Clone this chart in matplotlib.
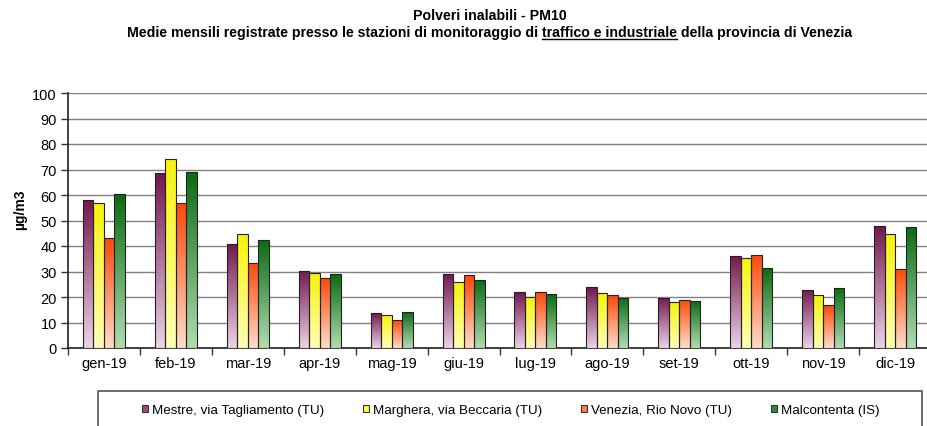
import matplotlib
matplotlib.use("Agg")
import matplotlib.pyplot as plt
import numpy as np
from matplotlib.colors import LinearSegmentedColormap
from matplotlib.patches import Rectangle
from matplotlib.lines import Line2D

plt.rcParams['font.family'] = ['Liberation Sans', 'DejaVu Sans']

months = ['gen-19', 'feb-19', 'mar-19', 'apr-19', 'mag-19', 'giu-19',
          'lug-19', 'ago-19', 'set-19', 'ott-19', 'nov-19', 'dic-19']
stations = ['Mestre, via Tagliamento (TU)', 'Marghera, via Beccaria (TU)',
            'Venezia, Rio Novo (TU)', 'Malcontenta (IS)']

mestre = [58.1, 68.5, 40.9, 30.2, 13.7, 29.1, 21.8, 23.9, 19.7, 36.2, 22.9, 47.9]
marghera = [57.0, 74.2, 44.8, 29.6, 13.0, 25.8, 19.9, 21.4, 18.0, 35.3, 20.7, 44.8]
venezia = [43.0, 56.8, 33.2, 27.3, 10.9, 28.5, 21.8, 20.7, 18.9, 36.6, 16.7, 31.0]
malcontenta = [60.3, 69.2, 42.2, 29.0, 14.2, 26.7, 21.1, 19.7, 18.5, 31.4, 23.7, 47.6]
series = [mestre, marghera, venezia, malcontenta]

# gradient colours for each station: (bottom, top)
grad_colors = [('#ecd2e6', '#74184f'),
               ('#ffffb8', '#f6f20a'),
               ('#ffdcc8', '#fb4a0c'),
               ('#b0dcb0', '#0b6b12')]
legend_colors = ['#9c4a80', '#ffff40', '#ff8050', '#2e8a34']

fig = plt.figure(figsize=(9.27, 4.27), dpi=100)
ax = fig.add_axes([68 / 927, 1 - 349 / 427, 863 / 927, 255 / 427])

x = np.arange(len(months))
w = 0.146
for i, vals in enumerate(series):
    cmap = LinearSegmentedColormap.from_list('g%d' % i, grad_colors[i])
    bars = ax.bar(x + (i - 1.5) * w, vals, w, facecolor='none',
                  edgecolor='#222222', linewidth=0.8, zorder=4)
    grad = np.linspace(0, 1, 100).reshape(-1, 1)
    for b in bars:
        x0, y0 = b.get_x(), b.get_y()
        im = ax.imshow(grad, extent=[x0, x0 + b.get_width(), y0, y0 + b.get_height()],
                       origin='lower', aspect='auto', cmap=cmap, zorder=3,
                       interpolation='bilinear')
        im.set_clip_path(b)

ax.set_xlim(-0.5, 11.5)
ax.set_ylim(0, 100)
ax.set_yticks(np.arange(0, 101, 10))
ax.grid(axis='y', color='#808080', linewidth=1.0, zorder=1)
ax.set_axisbelow(True)

ax.set_xticks(np.arange(-0.5, 12, 1))
ax.set_xticklabels([])
ax.set_xticks(x, minor=True)
ax.set_xticklabels(months, minor=True, fontsize=10.5)
ax.tick_params(axis='x', which='minor', length=0, pad=6)
ax.tick_params(axis='x', which='major', length=5, width=1, color='#333333')
ax.tick_params(axis='y', length=5, width=1, labelsize=10.5, pad=3, color='#333333')
for s in ['top', 'right']:
    ax.spines[s].set_visible(False)
for s in ['left', 'bottom']:
    ax.spines[s].set_linewidth(1.2)
    ax.spines[s].set_color('#222222')

fig.text(20 / 927, 1 - 210 / 427, 'µg/m3', rotation=90, fontsize=10,
         fontweight='bold', ha='center', va='center')

# title, with the second line partly underlined
tsize = 10.2
fig.text(490 / 927, 1 - 16 / 427, 'Polveri inalabili - PM10', fontsize=tsize,
         fontweight='bold', ha='center', va='center')
parts = ['Medie mensili registrate presso le stazioni di monitoraggio di ',
         'traffico e industriale', ' della provincia di Venezia']
renderer = fig.canvas.get_renderer()
widths = []
for p in parts:
    t = fig.text(0, 0, p, fontsize=tsize, fontweight='bold')
    widths.append(t.get_window_extent(renderer).width)
    t.remove()
ty = 1 - 33 / 427
xs = 490 - sum(widths) / 2
for p, wd in zip(parts, widths):
    fig.text(xs / 927, ty, p, fontsize=tsize, fontweight='bold', ha='left', va='center')
    if p == parts[1]:
        fig.add_artist(Line2D([xs / 927, (xs + wd) / 927], [ty - 7 / 427] * 2,
                              color='black', linewidth=1))
    xs += wd

# legend with an open-bottomed frame
handles = [Rectangle((0, 0), 1, 1, facecolor=c, edgecolor='#333333', linewidth=0.8)
           for c in legend_colors]
fig.legend(handles, stations, loc='center', bbox_to_anchor=(511 / 927, 1 - 411 / 427),
           ncol=4, frameon=False, fontsize=9.6, handlelength=0.45, handleheight=0.45,
           handletextpad=0.3, columnspacing=2.9)
fig.add_artist(Rectangle((98 / 927, -0.1), 824 / 927, 0.1 + 1 - 392 / 427,
                         transform=fig.transFigure, fill=False,
                         edgecolor='#555555', linewidth=1.2))

fig.savefig('out.png', dpi=100)
